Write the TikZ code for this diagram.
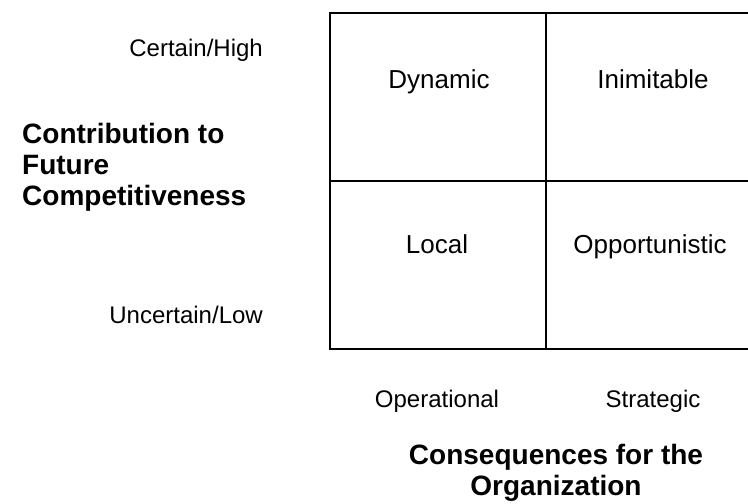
\documentclass[tikz,border=0pt]{standalone}
\usepackage{fontspec}
\setmainfont{Liberation Sans}
\begin{document}
\begin{tikzpicture}[x=1pt, y=-1pt, every node/.style={inner sep=0pt},
        cell/.style={anchor=base, font=\fontsize{26}{30}\selectfont},
        tick/.style={font=\fontsize{24}{29}\selectfont},
        title/.style={font=\bfseries\fontsize{28}{31}\selectfont, align=left}]
            \useasboundingbox (0, 0) rectangle (748, 504);
            \clip (0, 0) rectangle (748, 504);

            % the grid
            \draw[line width=2pt] (330, 13) rectangle (762, 349);
            \draw[line width=2pt] (546, 13) -- (546, 349);
            \draw[line width=2pt] (330, 181) -- (762, 181);

            \node[cell] (dyn) at (439, 88) {Dynamic};
            \node[cell] (inim) at (653, 88) {Inimitable};
            \node[cell] (loc) at (437, 253) {Local};
            \node[cell] (opp) at (650, 253) {Opportunistic};

            \node[tick, anchor=base east] (high) at (263, 56) {Certain/High};
            \node[tick, anchor=base east] (low) at (263, 323) {Uncertain/Low};
            \node[tick, anchor=base] (oper) at (437, 407) {Operational};
            \node[tick, anchor=base] (strat) at (653, 407) {Strategic};

            % base of a multi-line node is its last line
            \node[title, anchor=base west] (contrib) at (22, 205) {Contribution to\\Future\\Competitiveness};
            \node[title, align=center, anchor=base] (conseq) at (556, 495) {Consequences for the\\Organization};
        \end{tikzpicture}
\end{document}
